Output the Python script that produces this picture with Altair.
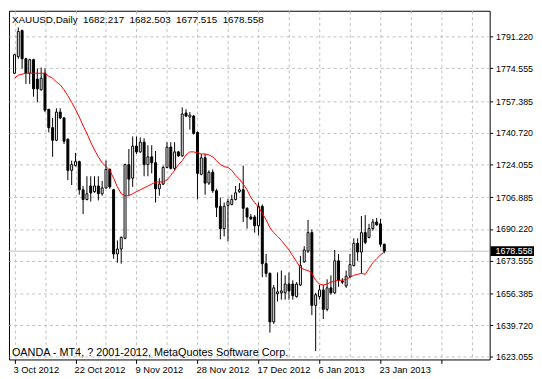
import altair as alt
import pandas as pd

# ---- data (XAUUSD daily candles) ----
opens = [1772.0, 1780.7, 1794.4, 1779.6, 1772.0, 1779.1, 1768.9, 1763.3, 1772.0, 1753.1,
         1743.4, 1736.8, 1751.6, 1748.5, 1737.3, 1721.0, 1723.5, 1725.6, 1710.8, 1705.7,
         1712.8, 1709.8, 1712.8, 1708.7, 1711.8, 1721.5, 1710.8, 1677.1, 1679.7, 1685.3,
         1724.0, 1716.9, 1733.7, 1730.7, 1735.8, 1724.0, 1728.1, 1725.0, 1711.3, 1713.8,
         1722.5, 1733.2, 1722.0, 1730.7, 1728.6, 1751.1, 1749.0, 1749.5, 1740.9, 1718.9,
         1727.6, 1714.3, 1720.0, 1710.3, 1702.1, 1690.4, 1702.6, 1703.1, 1705.7, 1709.8,
         1710.8, 1701.1, 1696.5, 1696.5, 1691.9, 1702.1, 1672.0, 1666.9, 1641.4, 1656.2,
         1656.7, 1656.7, 1661.3, 1661.3, 1654.7, 1660.8, 1673.0, 1678.6, 1688.3, 1650.1,
         1654.7, 1658.2, 1648.0, 1659.3, 1656.7, 1673.5, 1662.8, 1660.3, 1665.4, 1671.0,
         1682.7, 1678.1, 1688.3, 1685.8, 1690.4, 1693.9, 1692.9, 1682.217]
highs = [1782.2, 1796.0, 1794.9, 1780.1, 1779.6, 1779.6, 1774.5, 1775.0, 1774.5, 1753.1,
         1748.5, 1753.6, 1753.6, 1749.0, 1737.8, 1726.1, 1730.2, 1726.1, 1712.8, 1717.9,
         1717.9, 1717.9, 1717.9, 1715.4, 1726.1, 1722.0, 1711.3, 1684.2, 1686.3, 1724.5,
         1732.2, 1738.8, 1738.8, 1738.3, 1737.8, 1734.2, 1734.2, 1731.2, 1716.9, 1723.5,
         1735.8, 1735.8, 1735.8, 1731.2, 1754.1, 1753.1, 1751.6, 1750.0, 1741.4, 1729.6,
         1729.6, 1721.0, 1721.5, 1711.3, 1706.7, 1704.1, 1706.2, 1708.2, 1712.8, 1714.3,
         1723.5, 1701.6, 1698.0, 1697.5, 1704.1, 1703.1, 1677.1, 1667.4, 1660.8, 1667.4,
         1668.4, 1665.9, 1667.4, 1663.3, 1662.3, 1676.1, 1681.2, 1695.0, 1689.9, 1656.7,
         1660.8, 1660.8, 1663.8, 1665.9, 1679.2, 1677.1, 1664.4, 1668.4, 1677.1, 1685.3,
         1685.3, 1697.0, 1697.5, 1692.9, 1695.5, 1696.0, 1695.5, 1682.503]
lows = [1771.5, 1779.6, 1774.5, 1766.4, 1766.4, 1759.7, 1756.7, 1762.8, 1751.6, 1740.9,
        1728.1, 1736.3, 1747.9, 1734.8, 1715.9, 1713.3, 1723.0, 1708.2, 1698.0, 1705.2,
        1704.6, 1709.2, 1705.2, 1707.7, 1711.3, 1711.3, 1674.6, 1672.5, 1672.0, 1684.8,
        1707.7, 1712.3, 1729.6, 1730.2, 1717.9, 1717.9, 1719.4, 1704.1, 1707.7, 1713.3,
        1722.0, 1721.5, 1721.0, 1728.1, 1728.1, 1749.0, 1742.4, 1739.8, 1705.7, 1718.4,
        1708.2, 1713.3, 1709.2, 1696.5, 1684.8, 1686.3, 1683.7, 1702.6, 1705.2, 1709.2,
        1693.9, 1690.4, 1695.0, 1688.3, 1686.8, 1664.9, 1664.9, 1635.8, 1640.4, 1652.1,
        1653.1, 1653.1, 1653.1, 1653.1, 1654.2, 1660.3, 1672.5, 1677.6, 1645.0, 1626.1,
        1653.1, 1642.9, 1647.0, 1655.7, 1656.2, 1659.8, 1661.3, 1659.3, 1664.4, 1670.5,
        1673.5, 1666.9, 1682.2, 1685.3, 1689.3, 1691.9, 1680.7, 1677.515]
closes = [1781.7, 1793.9, 1779.6, 1772.0, 1779.1, 1763.8, 1763.8, 1769.4, 1752.6, 1743.4,
          1736.8, 1751.6, 1748.5, 1736.3, 1721.0, 1724.0, 1725.6, 1710.8, 1705.7, 1708.7,
          1709.2, 1712.8, 1708.7, 1711.8, 1721.5, 1712.3, 1677.1, 1679.7, 1685.8, 1724.0,
          1716.4, 1733.7, 1730.7, 1735.8, 1724.0, 1728.1, 1725.0, 1711.3, 1713.8, 1722.5,
          1733.2, 1722.0, 1730.7, 1728.6, 1750.6, 1749.5, 1750.0, 1740.4, 1719.4, 1727.6,
          1714.3, 1720.0, 1710.3, 1701.6, 1690.4, 1702.1, 1704.6, 1705.7, 1709.2, 1710.8,
          1701.1, 1696.5, 1695.5, 1691.9, 1702.1, 1672.0, 1666.9, 1641.4, 1659.3, 1657.2,
          1657.7, 1661.3, 1657.7, 1655.2, 1661.3, 1671.0, 1679.2, 1688.3, 1650.1, 1655.7,
          1658.2, 1648.0, 1659.3, 1656.7, 1673.5, 1663.3, 1662.3, 1665.4, 1671.5, 1682.7,
          1678.1, 1688.3, 1683.2, 1690.4, 1693.9, 1692.4, 1682.2, 1678.558]
moving_avg = [1769.4, 1771.0, 1771.5, 1772.0, 1772.0, 1772.0, 1772.0, 1772.0, 1772.0, 1770.4,
              1769.4, 1767.4, 1765.9, 1763.3, 1760.2, 1756.7, 1753.1, 1749.0, 1744.4, 1740.4,
              1735.8, 1731.7, 1728.1, 1725.0, 1723.0, 1721.0, 1716.9, 1712.3, 1708.7, 1707.7,
              1707.7, 1708.7, 1709.8, 1710.8, 1711.8, 1712.8, 1713.8, 1714.9, 1714.9, 1714.9,
              1715.9, 1718.4, 1721.0, 1724.0, 1726.1, 1729.1, 1730.7, 1730.7, 1730.2, 1729.6,
              1729.6, 1729.1, 1728.1, 1726.1, 1724.0, 1723.0, 1722.5, 1721.0, 1718.4, 1716.4,
              1713.8, 1710.8, 1706.7, 1704.1, 1701.6, 1698.5, 1695.0, 1690.9, 1688.3, 1686.3,
              1684.2, 1681.7, 1679.2, 1676.1, 1673.0, 1670.0, 1668.9, 1668.4, 1666.9, 1663.3,
              1661.3, 1660.8, 1661.3, 1662.3, 1662.8, 1663.3, 1663.3, 1663.8, 1664.9, 1665.9,
              1666.4, 1666.9, 1666.4, 1669.5, 1672.5, 1674.6, 1676.6, 1678.1]
date_labels = ["3 Oct 2012", "22 Oct 2012", "9 Nov 2012", "28 Nov 2012",
               "17 Dec 2012", "6 Jan 2013", "23 Jan 2013"]
price_ticks = [1623.055, 1639.720, 1656.385, 1673.555, 1690.220, 1706.885,
               1724.055, 1740.720, 1757.385, 1774.555, 1791.220]
header_parts = ["XAUUSD,Daily", "1682.217", "1682.503", "1677.515", "1678.558"]
footer_text = ["OANDA - MT4, ? 2001-2012, MetaQuotes Software Corp."]
last_price = [1678.558]

# ---- chart ----
W, H = 488, 354
FONT = "Liberation Sans"
n = len(opens)
df = pd.DataFrame({"i": list(range(n)), "open": opens, "high": highs,
                   "low": lows, "close": closes, "ma": moving_avg})
df["bull"] = df["close"] >= df["open"]

xs = alt.Scale(domain=[-0.15, 123.35], nice=False, zero=False)
ys = alt.Scale(domain=[1621.7, 1804.8], nice=False, zero=False)

label_js = "[" + ",".join("'" + d + "'" for d in date_labels) + "]"
x_axis = alt.Axis(
    values=list(range(0, 124, 8)), grid=True, gridColor="#c0c0c0", gridDash=[3, 3],
    gridWidth=1, domain=False, title=None,
    labelExpr="datum.value % 16 === 0 ? " + label_js + "[datum.value / 16] : ''",
    labelAlign="left", labelOffset=-1.5, labelFlush=False, labelOverlap=False,
    labelFont=FONT, labelFontSize=9.5, labelColor="black", labelPadding=1,
    tickSize=4, tickColor="black",
    tickOpacity={"condition": {"test": "datum.value % 16 === 0", "value": 1}, "value": 0},
)
y_axis = alt.Axis(
    orient="right", values=price_ticks, format=".3f", grid=True, gridColor="#c0c0c0",
    gridDash=[3, 3], gridWidth=1, domain=False, title=None, tickSize=3,
    tickColor="black", labelPadding=3, labelFont=FONT, labelFontSize=9,
    labelColor="black", labelOverlap=False, labelBound=False, tickCount=len(price_ticks),
)

price_df = pd.DataFrame({"p": last_price})
NB = "\u00a0\u00a0"
header_df = pd.DataFrame({"t": [NB.join(header_parts)]})

price_rule = alt.Chart(price_df).mark_rule(color="#c0c0c0", strokeWidth=1).encode(
    y=alt.Y("p:Q", scale=ys, axis=y_axis)
)
base = alt.Chart(df)
wick = base.mark_rule(color="black", strokeWidth=1).encode(
    x=alt.X("i:Q", scale=xs, axis=x_axis),
    y=alt.Y("low:Q", scale=ys, axis=y_axis),
    y2="high:Q",
)
body = base.mark_bar(width=2, stroke="black", strokeWidth=1).encode(
    x=alt.X("i:Q", scale=xs, axis=x_axis),
    y=alt.Y("open:Q", scale=ys, axis=y_axis),
    y2="close:Q",
    fill=alt.condition("datum.bull", alt.value("white"), alt.value("black")),
)
ma_line = base.mark_line(color="#ff0000", strokeWidth=1).encode(
    x=alt.X("i:Q", scale=xs, axis=x_axis),
    y=alt.Y("ma:Q", scale=ys, axis=y_axis),
)
header = alt.Chart(header_df).mark_text(
    align="left", baseline="alphabetic", font=FONT, fontSize=10, color="black"
).encode(x=alt.value(3), y=alt.value(12), text="t:N")
footer = alt.Chart(pd.DataFrame({"t": footer_text})).mark_text(
    align="left", baseline="alphabetic", font=FONT, fontSize=11, color="black"
).encode(x=alt.value(3), y=alt.value(H - 4), text="t:N")
price_box = alt.Chart(price_df).mark_rect(color="black", yOffset=-5, y2Offset=5).encode(
    x=alt.value(W + 1), x2=alt.value(W + 45),
    y=alt.Y("p:Q", scale=ys, axis=y_axis), y2="p:Q",
)
price_text = alt.Chart(price_df).mark_text(
    align="left", baseline="middle", font=FONT, fontSize=9, color="white"
).encode(
    x=alt.value(W + 6), y=alt.Y("p:Q", scale=ys, axis=y_axis),
    text=alt.Text("p:Q", format=".3f"),
)

chart = alt.layer(
    price_rule, wick, body, ma_line, header, footer, price_box, price_text
).properties(
    width=W, height=H, padding={"left": 0, "top": 0, "right": 0, "bottom": 0},
    background="white",
).configure_view(stroke="black", strokeWidth=1)

chart.save("out.html", embed_options={"renderer": "svg", "actions": False})
